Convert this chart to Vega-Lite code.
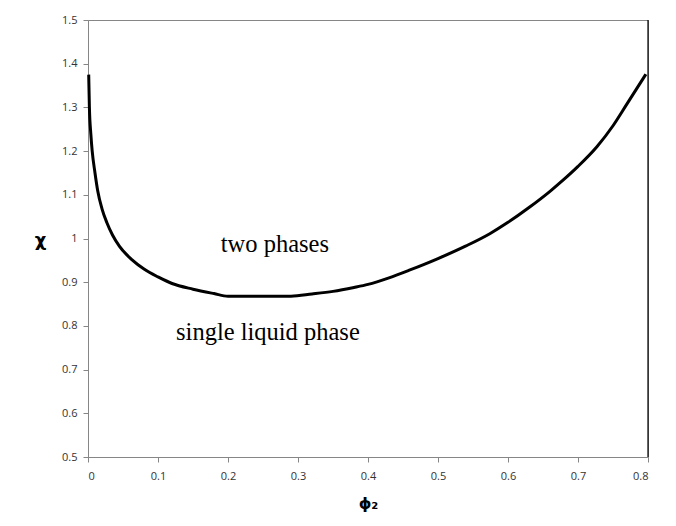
{
  "$schema": "https://vega.github.io/schema/vega-lite/v6.json",
  "width": 560,
  "height": 437,
  "autosize": {"type": "none"},
  "padding": {"left": 88, "top": 20, "right": 28, "bottom": 69},
  "background": "white",
  "config": {
    "view": {"stroke": "#868686", "strokeWidth": 1},
    "axis": {
      "grid": false,
      "domainColor": "#868686",
      "tickColor": "#868686",
      "tickSize": 5,
      "labelFont": "Open Sans",
      "labelFontSize": 11,
      "labelColor": "#333333",
      "titleFont": "DejaVu Sans",
      "titleFontWeight": "bold",
      "titleColor": "#000000"
    }
  },
  "datasets": {
    "curve": [
      {"phi": 0.001, "chi": 1.375},
      {"phi": 0.002, "chi": 1.30},
      {"phi": 0.004, "chi": 1.24},
      {"phi": 0.006, "chi": 1.20},
      {"phi": 0.010, "chi": 1.15},
      {"phi": 0.014, "chi": 1.108},
      {"phi": 0.020, "chi": 1.068},
      {"phi": 0.027, "chi": 1.036},
      {"phi": 0.035, "chi": 1.008},
      {"phi": 0.045, "chi": 0.982},
      {"phi": 0.063, "chi": 0.951},
      {"phi": 0.080, "chi": 0.930},
      {"phi": 0.100, "chi": 0.912},
      {"phi": 0.120, "chi": 0.897},
      {"phi": 0.150, "chi": 0.884},
      {"phi": 0.180, "chi": 0.874},
      {"phi": 0.200, "chi": 0.868},
      {"phi": 0.290, "chi": 0.868},
      {"phi": 0.320, "chi": 0.873},
      {"phi": 0.350, "chi": 0.879},
      {"phi": 0.380, "chi": 0.888},
      {"phi": 0.400, "chi": 0.895},
      {"phi": 0.430, "chi": 0.910},
      {"phi": 0.460, "chi": 0.928},
      {"phi": 0.500, "chi": 0.954},
      {"phi": 0.540, "chi": 0.983},
      {"phi": 0.574, "chi": 1.011},
      {"phi": 0.600, "chi": 1.037},
      {"phi": 0.631, "chi": 1.072},
      {"phi": 0.660, "chi": 1.108},
      {"phi": 0.679, "chi": 1.134},
      {"phi": 0.700, "chi": 1.165},
      {"phi": 0.727, "chi": 1.210},
      {"phi": 0.750, "chi": 1.258},
      {"phi": 0.770, "chi": 1.308},
      {"phi": 0.797, "chi": 1.376}
    ],
    "labels": [
      {"phi": 0.267, "chi": 0.969, "text": "two phases"},
      {"phi": 0.257, "chi": 0.768, "text": "single liquid phase"}
    ]
  },
  "layer": [
    {
      "data": {"name": "curve"},
      "mark": {"type": "line", "color": "black", "strokeWidth": 3, "interpolate": "monotone"},
      "encoding": {
        "x": {
          "field": "phi", "type": "quantitative",
          "scale": {"domain": [0, 0.8], "nice": false},
          "axis": {
            "values": [0, 0.1, 0.2, 0.3, 0.4, 0.5, 0.6, 0.7, 0.8],
            "format": "~g",
            "title": "ϕ₂",
            "titleFontSize": 16,
            "titlePadding": 14,
            "labelPadding": 8
          }
        },
        "y": {
          "field": "chi", "type": "quantitative",
          "scale": {"domain": [0.5, 1.5], "nice": false, "zero": false},
          "axis": {
            "values": [0.5, 0.6, 0.7, 0.8, 0.9, 1, 1.1, 1.2, 1.3, 1.4, 1.5],
            "format": "~g",
            "title": "χ",
            "titleFontSize": 18,
            "titleAngle": 0,
            "titleAlign": "center",
            "titleBaseline": "middle",
            "titleX": -48,
            "titleY": 220,
            "labelPadding": 6
          }
        }
      }
    },
    {
      "data": {"values": [{"phi": 0.8}]},
      "mark": {"type": "rule", "color": "black", "strokeWidth": 1.2},
      "encoding": {"x": {"field": "phi", "type": "quantitative"}}
    },
    {
      "data": {"name": "labels"},
      "mark": {"type": "text", "font": "Liberation Serif", "fontSize": 24.5, "align": "center", "baseline": "alphabetic", "color": "black"},
      "encoding": {
        "x": {"field": "phi", "type": "quantitative"},
        "y": {"field": "chi", "type": "quantitative"},
        "text": {"field": "text"}
      }
    }
  ]
}
